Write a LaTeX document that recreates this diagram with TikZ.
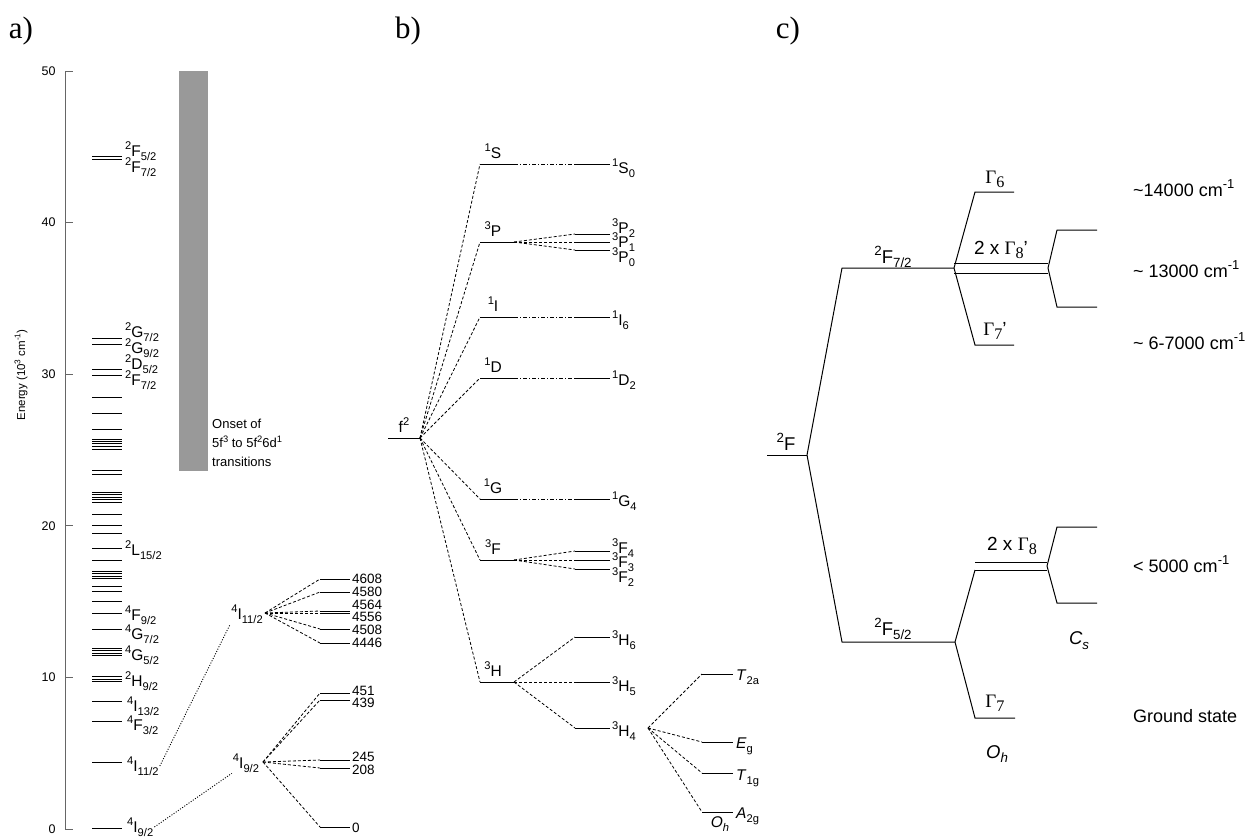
\documentclass[tikz,border=0pt]{standalone}
\usepackage{fontspec}
\setmainfont{Liberation Sans}
\newfontfamily\gfont{Liberation Serif}
\usetikzlibrary{positioning}

\newcommand{\up}[1]{\raisebox{0.42em}{\scalebox{0.72}{#1}}}
\newcommand{\dn}[1]{\raisebox{-0.26em}{\scalebox{0.72}{#1}}}
\newcommand{\Gm}[1]{{\gfont Γ\raisebox{-0.22em}{\scalebox{0.85}{#1}}}}

\tikzset{
  lvl/.style={line width=1pt},
  axisline/.style={line width=1pt, black!60},
  link/.style={line width=0.9pt, dash pattern=on 1pt off 1.6pt},
  split/.style={line width=0.8pt, dash pattern=on 3pt off 2pt},
  cont/.style={line width=0.8pt, dash pattern=on 4pt off 2pt on 1pt off 2pt},
  ttl/.style={font=\gfont\fontsize{31}{34}\selectfont},
  lbla/.style={font=\fontsize{15.5}{17}\selectfont, inner sep=1pt, anchor=west},
  lblb/.style={font=\fontsize{15.5}{17}\selectfont, inner sep=1pt},
  lblc/.style={font=\fontsize{18.5}{20}\selectfont, inner sep=1pt},
  gam/.style={font=\fontsize{19}{21}\selectfont, inner sep=1pt},
  note/.style={font=\fontsize{18}{20}\selectfont, inner sep=1pt, anchor=west},
}

\begin{document}
\begin{tikzpicture}[x=1pt,y=-1pt]
\useasboundingbox (0,0) rectangle (1250,836);

% panel labels
\node[ttl] (pa) at (21,31) {a)};
\node[ttl] (pb) at (408,31) {b)};
\node[ttl] (pc) at (788,31) {c)};

%%% a) free ion levels
\draw[axisline] (65,829) -- (65,71);
\foreach \e in {0,10,20,30,40,50}{
  \draw[axisline] (65,{829-15.16*\e}) -- (73,{829-15.16*\e});
  \node[font=\fontsize{12.5}{14}\selectfont, anchor=east] (t\e) at (59,{829-15.16*\e}) {\e};
}
\node[font=\fontsize{11.5}{13}\selectfont, rotate=90] (elab) at (21,375) {Energy (10\up{3} cm\up{-1})};

\fill[black!40] (179,71) rectangle (208,471);
\node[font=\fontsize{13}{19}\selectfont, align=left, anchor=north west, inner sep=0pt] (onset) at (212,419)
  {Onset of\\5f\up{3} to 5f\up{2}6d\up{1}\\transitions};

\foreach \y in {156,159,338,344,369,375,397,413,429,439,441,443,446,449,470,474,
                492,494,497,499,502,514,525,533,548,560,571,573,576,578,586,591,601,
                613,629,648,650,653,655,676,679,681,701,721,762,828}
  \draw[lvl] (92,\y) -- (122,\y);

\node[lbla] (aF52) at (124,151) {\up{2}F\dn{5/2}};
\node[lbla] (aF72) at (124,167) {\up{2}F\dn{7/2}};
\node[lbla] (aG72) at (124,332) {\up{2}G\dn{7/2}};
\node[lbla] (aG92) at (124,348) {\up{2}G\dn{9/2}};
\node[lbla] (aD52) at (124,364) {\up{2}D\dn{5/2}};
\node[lbla] (aF72b) at (124,380) {\up{2}F\dn{7/2}};
\node[lbla] (aL152) at (124,550) {\up{2}L\dn{15/2}};
\node[lbla] (aF92) at (124,615) {\up{4}F\dn{9/2}};
\node[lbla] (aG72b) at (124,634) {\up{4}G\dn{7/2}};
\node[lbla] (aG52) at (124,655) {\up{4}G\dn{5/2}};
\node[lbla] (aH92) at (124,681) {\up{2}H\dn{9/2}};
\node[lbla] (aI132) at (126,706) {\up{4}I\dn{13/2}};
\node[lbla] (aF32) at (126,725) {\up{4}F\dn{3/2}};
\node[lbla] (aI112) at (126,766) {\up{4}I\dn{11/2}};
\node[lbla] (aI92) at (126,827) {\up{4}I\dn{9/2}};

% crystal field splitting of the two lowest multiplets
\node[lblb] (sI11) at (247,614) {\up{4}I\dn{11/2}};
\node[lblb] (sI9) at (246,763) {\up{4}I\dn{9/2}};
\draw[link] (aI112.east) -- (sI11.south west);
\draw[link] (aI92.east) -- (sI9.south west);

\coordinate (c11) at (265,613);
\foreach \y/\ly/\v in {579/579/4608,592/592/4580,611/605/4564,613/617/4556,629/630/4508,643/643/4446}{
  \draw[split] (c11) -- (320,\y);
  \draw[lvl] (320,\y) -- (350,\y);
  \node[lbla, font=\fontsize{13.5}{15}\selectfont] (k\v) at (351,\ly) {\v};
}
\coordinate (c9) at (263,762);
\foreach \y/\ly/\v in {693/691/451,700/703/439,760/757/245,768/770/208,827/828/0}{
  \draw[split] (c9) -- (320,\y);
  \draw[lvl] (320,\y) -- (350,\y);
  \node[lbla, font=\fontsize{13.5}{15}\selectfont] (k\v) at (351,\ly) {\v};
}

%%% b) f2 configuration
\draw[lvl] (388,438) -- (420,438);
\node[lblb] (f2) at (404,425) {f\up{2}};
\coordinate (cf) at (420,438);

\foreach \y/\t/\n in {164/1/S,242/3/P,317/1/I,378/1/D,499/1/G,560/3/F,682/3/H}{
  \draw[split] (cf) -- (480,\y);
  \draw[lvl] (480,\y) -- (514,\y);
  \node[lblb] (T\n) at (493,{\y-13}) {\up{\t}\n};
}
% single J levels
\foreach \y/\lab in {164/S,317/I,378/D,499/G}{
  \draw[cont] (514,\y) -- (575,\y);
  \draw[lvl] (575,\y) -- (610,\y);
}
% multiplets
\foreach \y in {234,242,250}{
  \draw[split] (514,242) -- (575,\y);
  \draw[lvl] (575,\y) -- (610,\y);
}
\foreach \y in {551,560,569}{
  \draw[split] (514,560) -- (575,\y);
  \draw[lvl] (575,\y) -- (610,\y);
}
\coordinate (cH) at (514,682);
\foreach \y in {637,682,728}{
  \draw[split] (cH) -- (575,\y);
  \draw[lvl] (575,\y) -- (610,\y);
}
\node[lbla] (S0) at (611,168) {\up{1}S\dn{0}};
\node[lbla] (P2) at (611,228) {\up{3}P\dn{2}};
\node[lbla] (P1) at (611,242) {\up{3}P\dn{1}};
\node[lbla] (P0) at (611,257) {\up{3}P\dn{0}};
\node[lbla] (I6) at (611,320) {\up{1}I\dn{6}};
\node[lbla] (D2) at (611,380) {\up{1}D\dn{2}};
\node[lbla] (G4) at (611,501) {\up{1}G\dn{4}};
\node[lbla] (F4) at (611,548) {\up{3}F\dn{4}};
\node[lbla] (F3) at (611,562) {\up{3}F\dn{3}};
\node[lbla] (F2) at (611,577) {\up{3}F\dn{2}};
\node[lbla] (H6) at (611,640) {\up{3}H\dn{6}};
\node[lbla] (H5) at (611,686) {\up{3}H\dn{5}};
\node[lbla] (H4) at (611,731) {\up{3}H\dn{4}};

% O_h splitting of 3H4
\coordinate (cH4) at (648,728);
\foreach \y in {674,742,773,812}{
  \draw[split] (cH4) -- (702,\y);
  \draw[lvl] (702,\y) -- (733,\y);
}
\node[lbla] (T2a) at (735,677) {\textit{T}\dn{2a}};
\node[lbla] (Eg) at (735,746) {\textit{E}\dn{g}};
\node[lbla] (T1g) at (735,778) {\textit{T}\dn{1g}};
\node[lbla] (A2g) at (735,816) {\textit{A}\dn{2g}};
\node[lblb] (Ohb) at (720,824) {\textit{O\dn{h}}};

%%% c) f1 ion
\draw[lvl] (767,455) -- (807,455);
\node[lblc] (F) at (786,442) {\up{2}F};
\coordinate (cF) at (807,455);

\draw[lvl] (cF) -- (842,268) -- (954,268);
\node[lblc] (F72) at (893,257) {\up{2}F\dn{7/2}};
\draw[lvl] (cF) -- (842,642) -- (955,642);
\node[lblc] (F52) at (893,629) {\up{2}F\dn{5/2}};

% 2F7/2
\coordinate (c72) at (954,268);
\draw[lvl] (c72) -- (975,192) -- (1014,192);
\node[gam] (G6) at (995,179) {\Gm{6}};
\draw[lvl] (c72) -- (975,345) -- (1014,345);
\node[gam] (G7p) at (995,331) {\Gm{7}'};
\draw[lvl] (954,263) -- (1048,263);
\draw[lvl] (954,273) -- (1048,273);
\node[gam] (G8p) at (1001,250) {2 x \Gm{8}'};
\coordinate (c8p) at (1048,268);
\draw[lvl] (c8p) -- (1057,230) -- (1097,230);
\draw[lvl] (c8p) -- (1057,307) -- (1097,307);

% 2F5/2
\coordinate (c52) at (955,642);
\draw[lvl] (c52) -- (975,570);
\draw[lvl] (975,562) -- (1047,562);
\draw[lvl] (975,570) -- (1047,570);
\node[gam] (G8) at (1012,546) {2 x \Gm{8}};
\coordinate (c8) at (1047,566);
\draw[lvl] (c8) -- (1057,527) -- (1097,527);
\draw[lvl] (c8) -- (1057,603) -- (1097,603);
\draw[lvl] (c52) -- (975,718) -- (1015,718);
\node[gam] (G7) at (995,703) {\Gm{7}};

\node[lblc] (Ohc) at (997,754) {\textit{O\dn{h}}};
\node[lblc] (Cs) at (1079,641) {\textit{C\dn{s}}};

\node[note] (e1) at (1132,188) {\textasciitilde14000 cm\up{-1}};
\node[note] (e2) at (1132,269) {\textasciitilde{} 13000 cm\up{-1}};
\node[note] (e3) at (1132,341) {\textasciitilde{} 6-7000 cm\up{-1}};
\node[note] (e4) at (1132,564) {< 5000 cm\up{-1}};
\node[note] (e5) at (1132,716) {Ground state};
\end{tikzpicture}
\end{document}
